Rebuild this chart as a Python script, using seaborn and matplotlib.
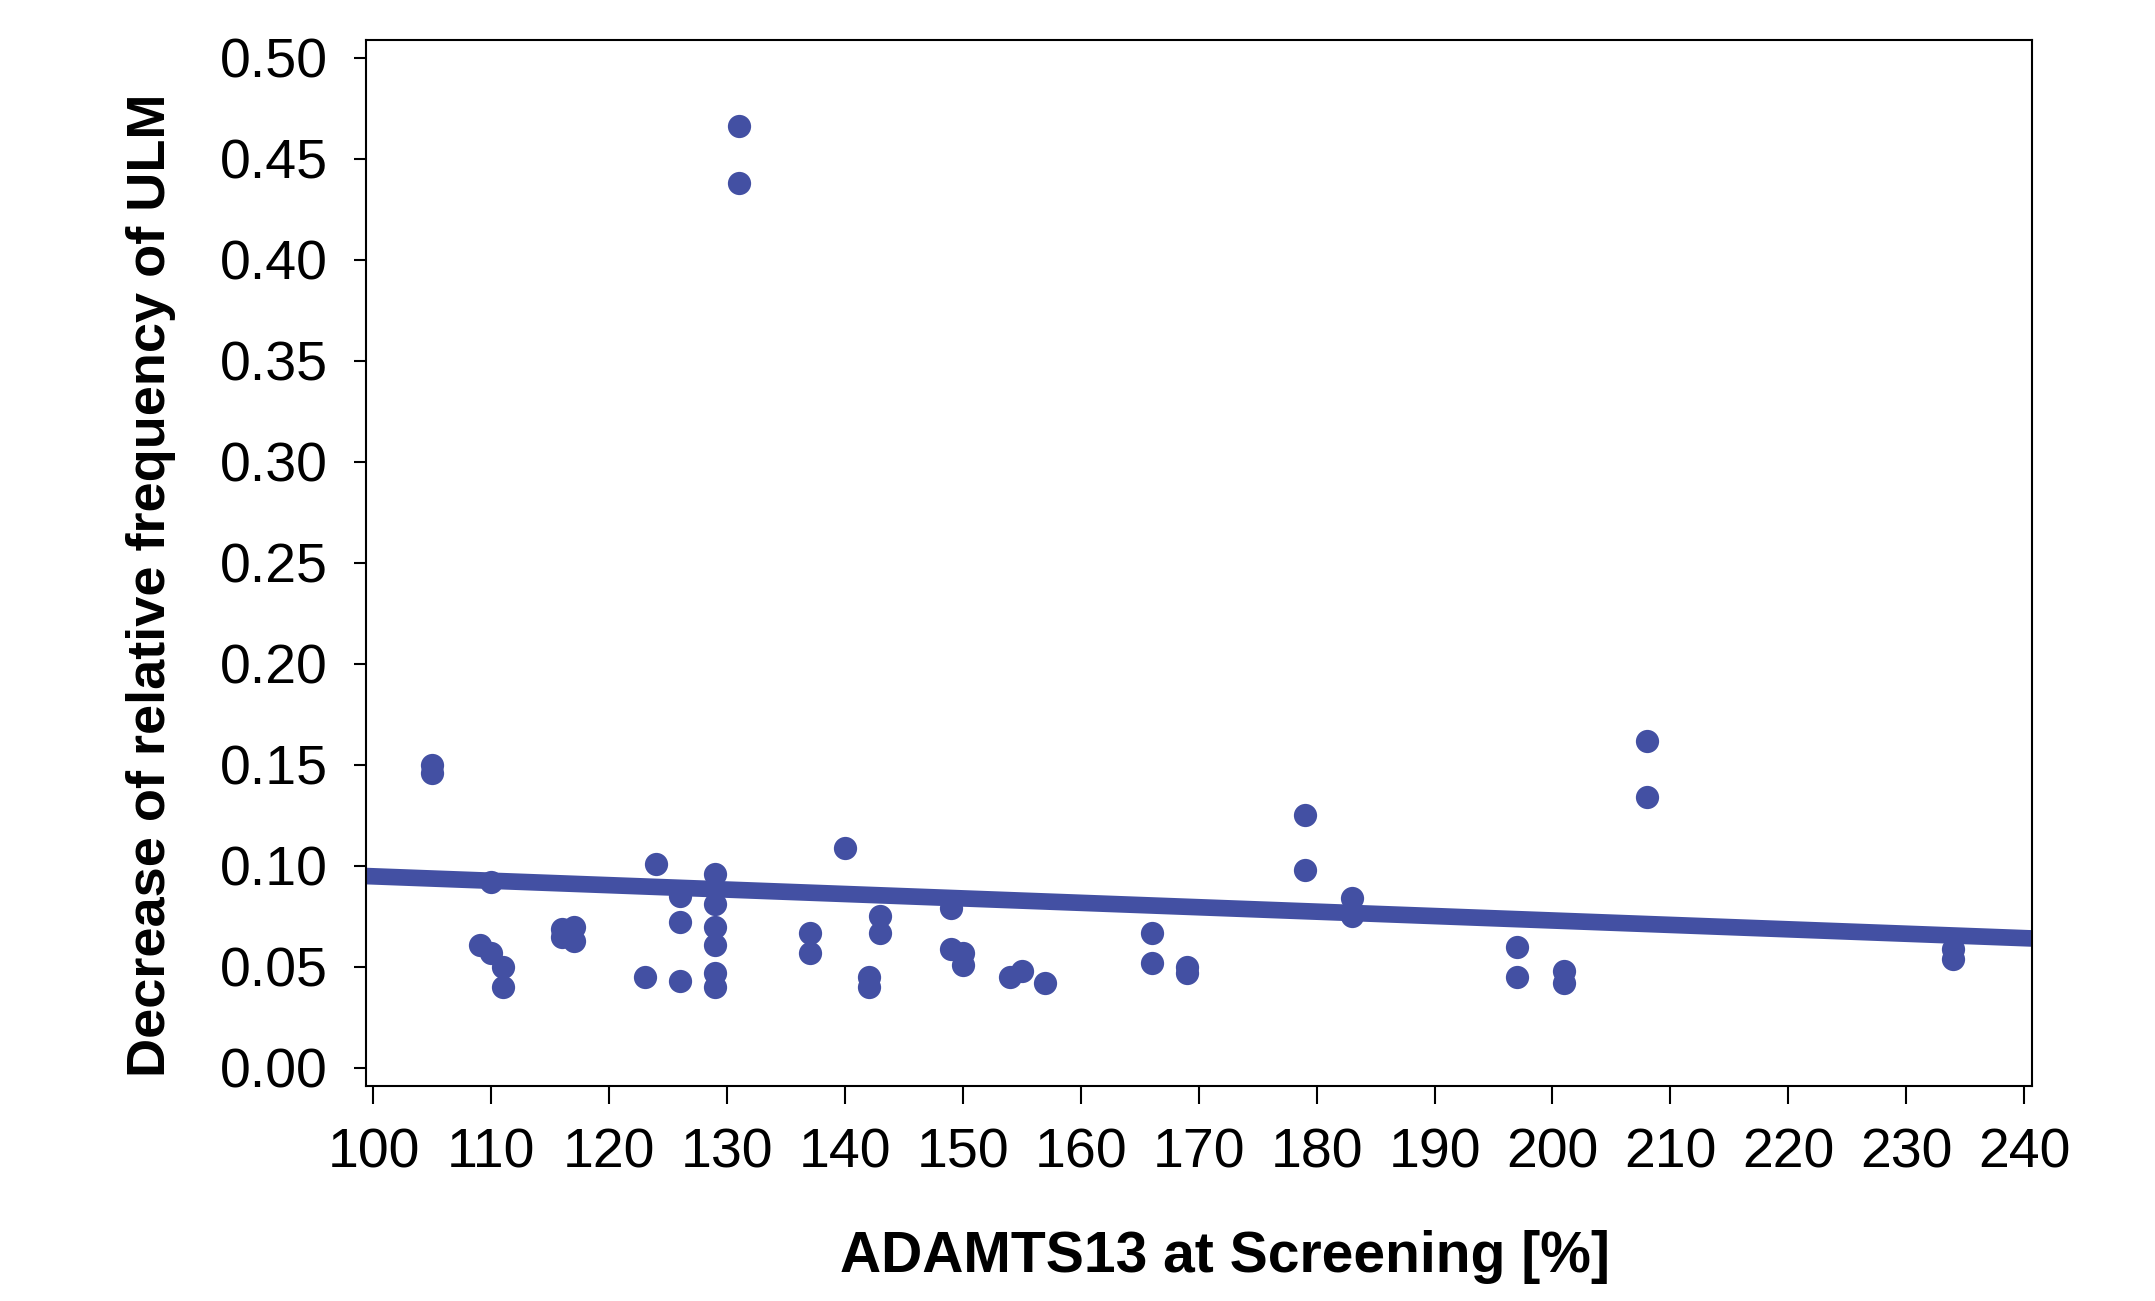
import seaborn as sns
import pandas as pd
import matplotlib.pyplot as plt
from matplotlib import font_manager

# ADAMTS13 at screening (%) vs decrease of relative ULM frequency
adamts13 = [105, 105, 109, 110, 110, 111, 111, 116, 116, 117, 117, 123, 124,
            126, 126, 126, 129, 129, 129, 129, 129, 129, 131, 131, 137, 137,
            140, 142, 142, 143, 143, 149, 149, 150, 150, 154, 155, 157, 166, 166,
            169, 169, 179, 179, 183, 183, 197, 197, 201, 201, 208, 208, 234, 234]
ulm_decrease = [0.150, 0.146, 0.061, 0.057, 0.092, 0.050, 0.040, 0.069, 0.065, 0.070, 0.063, 0.045, 0.101,
                0.085, 0.072, 0.043, 0.096, 0.081, 0.070, 0.061, 0.047, 0.040, 0.466, 0.438, 0.067, 0.057,
                0.109, 0.045, 0.040, 0.075, 0.067, 0.079, 0.059, 0.057, 0.051, 0.045, 0.048, 0.042, 0.067, 0.052,
                0.050, 0.047, 0.125, 0.098, 0.084, 0.075, 0.060, 0.045, 0.048, 0.042, 0.162, 0.134, 0.059, 0.054]

x_ticks = list(range(100, 241, 10))
y_ticks = [0.00, 0.05, 0.10, 0.15, 0.20, 0.25, 0.30, 0.35, 0.40, 0.45, 0.50]

df = pd.DataFrame({'ADAMTS13': adamts13, 'ULM': ulm_decrease})

sns.set_style("ticks")
installed = {f.name for f in font_manager.fontManager.ttflist}
font = 'Liberation Sans Narrow' if 'Liberation Sans Narrow' in installed else 'Liberation Sans'
plt.rcParams['font.family'] = [font, 'DejaVu Sans']
plt.rcParams['text.color'] = 'black'
plt.rcParams['axes.labelcolor'] = 'black'

color = '#4350A3'

fig = plt.figure(figsize=(21.55, 13.01), dpi=100)
ax = fig.add_axes([0.1698, 0.1653, 0.7729, 0.804])
ax.set_xlim(99.36, 240.64)
ax.set_ylim(-0.0089, 0.5088)

# scatter + least-squares line over the full x range
sns.regplot(x='ADAMTS13', y='ULM', data=df, ax=ax, ci=None, truncate=False,
            scatter_kws={'s': 280, 'color': color, 'linewidths': 0, 'alpha': 1},
            line_kws={'color': color, 'lw': 12, 'solid_capstyle': 'butt'})

ax.set_xlim(99.36, 240.64)
ax.set_ylim(-0.0089, 0.5088)
ax.set_xticks(x_ticks)
ax.set_yticks(y_ticks)
ax.set_xticklabels([str(t) for t in x_ticks])
ax.set_yticklabels([f'{t:.2f}' for t in y_ticks])

for s in ax.spines.values():
    s.set_visible(True)
    s.set_color('black')
    s.set_linewidth(1.5)

ax.tick_params(axis='y', direction='out', length=8.3, width=1.5, pad=19, labelsize=40, colors='black')
ax.tick_params(axis='x', direction='out', length=12.7, width=1.5, pad=17, labelsize=40, colors='black')

ax.set_xlabel('ADAMTS13 at Screening [%]', fontsize=41, fontweight='bold', color='black')
ax.set_ylabel('Decrease of relative frequency of ULM', fontsize=39, fontweight='bold', color='black')
ax.xaxis.label.set_va('center')
ax.yaxis.label.set_va('center')
ax.xaxis.set_label_coords(0.516, -0.164)
ax.yaxis.set_label_coords(-0.129, 0.479)

fig.savefig('out.png', dpi=100)
